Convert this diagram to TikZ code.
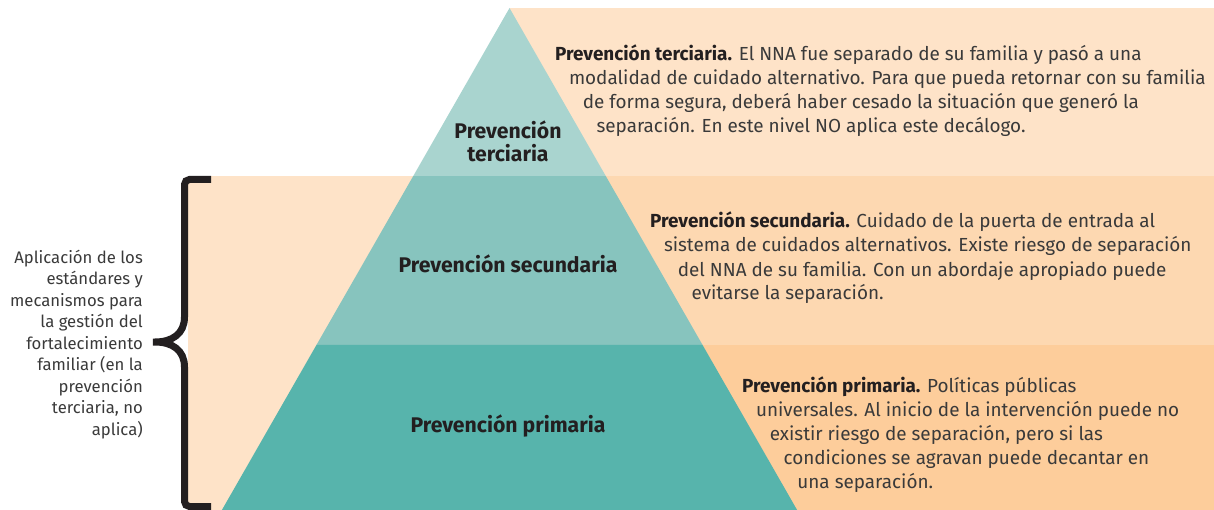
\documentclass[tikz,border=0pt]{standalone}
\usepackage{fontspec}
\setmainfont{Fira Sans}
\usetikzlibrary{calc}

\definecolor{peachA}{HTML}{FEE3C8}
\definecolor{peachB}{HTML}{FDD8B1}
\definecolor{peachC}{HTML}{FDCD9B}
\definecolor{tealA}{HTML}{A9D4CF}
\definecolor{tealB}{HTML}{87C4BE}
\definecolor{tealC}{HTML}{57B4AC}
\definecolor{ink}{HTML}{231F20}
\definecolor{txt}{HTML}{3A3A3A}

\newdimen\stairstep \stairstep=13.8pt
\newcommand{\stair}[1]{\hspace*{#1\stairstep}}

\begin{document}
\begin{tikzpicture}[x=1pt,y=-1pt,
    level/.style={font=\fontsize{21.2}{23}\selectfont\bfseries,text=ink,align=center,inner sep=0pt},
    note/.style={font=\fontsize{18.9}{24}\selectfont,text=txt,align=left,anchor=base west,inner sep=0pt},
    side/.style={font=\fontsize{16.7}{21.5}\selectfont,text=txt,align=right,anchor=base east,inner sep=0pt}]
    \useasboundingbox (0,0) rectangle (1214,510);
    %
    \fill[peachA] (510,8) rectangle (1214,176);
    \fill[peachA] (188,176) rectangle (1214,510);
    \fill[peachB] (510,176) rectangle (1214,345);
    \fill[peachC] (510,345) rectangle (1214,510);
    %
    \coordinate (top) at (509.5,8);
    \coordinate (bl) at (221.9,510);
    \coordinate (br) at (797.1,510);
    \coordinate (l1) at ($(top)!0.3347!(bl)$);
    \coordinate (r1) at ($(top)!0.3347!(br)$);
    \coordinate (l2) at ($(top)!0.6713!(bl)$);
    \coordinate (r2) at ($(top)!0.6713!(br)$);
    %
    \fill[tealA] (top) -- (r1) -- (l1) -- cycle;
    \fill[tealB] (l1) -- (r1) -- (r2) -- (l2) -- cycle;
    \fill[tealC] (l2) -- (r2) -- (br) -- (bl) -- cycle;
    %
    \draw[ink,line width=7pt,rounded corners=5pt] (211,179.5) -- (184.5,179.5) -- (184.5,312)
        .. controls (184.5,334) and (172,342) .. (150,342)
        .. controls (172,342) and (184.5,350) .. (184.5,372) -- (184.5,506.5) -- (211,506.5);
    %
    \node[level] (ter) at (508,141) {Prevención\\terciaria};
    \node[level] (sec) at (508,264) {Prevención secundaria};
    \node[level] (pri) at (508,426) {Prevención primaria};
    %
    \node[note] (nter) at (555,133) {\textbf{\color{ink}Prevención terciaria.} El NNA fue separado de su familia y pasó a una\\
        \stair{1}modalidad de cuidado alternativo. Para que pueda retornar con su familia\\
        \stair{2}de forma segura, deberá haber cesado la situación que generó la\\
        \stair{3}separación. En este nivel NO aplica este decálogo.};
    \node[note] (nsec) at (650,300) {\textbf{\color{ink}Prevención secundaria.} Cuidado de la puerta de entrada al\\
        \stair{1}sistema de cuidados alternativos. Existe riesgo de separación\\
        \stair{2}del NNA de su familia. Con un abordaje apropiado puede\\
        \stair{3}evitarse la separación.};
    \node[note] (npri) at (742,488) {\textbf{\color{ink}Prevención primaria.} Políticas públicas\\
        \stair{1}universales. Al inicio de la intervención puede no\\
        \stair{2}existir riesgo de separación, pero si las\\
        \stair{3}condiciones se agravan puede decantar en\\
        \stair{4}una separación.};
    %
    \node[side] (apl) at (143,435) {Aplicación de los\\estándares y\\mecanismos para\\la gestión del\\fortalecimiento\\familiar (en la\\prevención\\terciaria, no\\aplica)};
\end{tikzpicture}
\end{document}
